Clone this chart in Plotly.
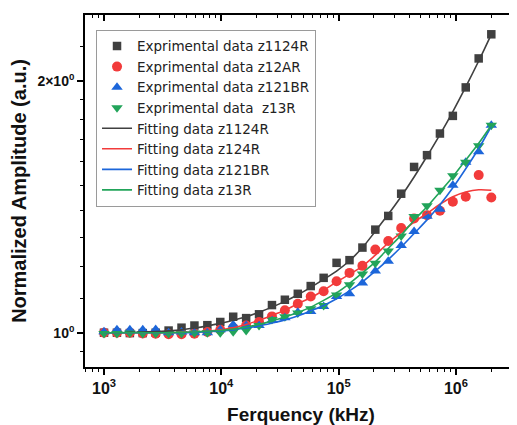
import plotly.graph_objects as go
import math

freq = [1000, 1289, 1661, 2140, 2757, 3553, 4578, 5899, 7602, 9796, 12620, 16270,
        20960, 27010, 34800, 44850, 57790, 74470, 95970, 123700, 159400, 205300,
        264600, 341000, 439400, 566200, 729600, 940200, 1211000, 1561000, 2000000]

exp_z1124R = [1.0, 1.0, 0.999, 0.999, 1.0, 1.006, 1.014, 1.020, 1.021, 1.030, 1.045, 1.041,
              1.052, 1.079, 1.095, 1.113, 1.137, 1.163, 1.212, 1.221, 1.264, 1.328, 1.379,
              1.466, 1.578, 1.630, 1.730, 1.816, 1.964, 2.127, 2.273]
exp_z12AR = [1.0, 1.0, 1.0, 0.998, 0.997, 0.996, 0.996, 0.997, 1.002, 1.008, 1.014, 1.020,
             1.030, 1.046, 1.064, 1.083, 1.105, 1.121, 1.152, 1.179, 1.202, 1.257, 1.287,
             1.334, 1.369, 1.382, 1.399, 1.434, 1.454, 1.543, 1.451]
exp_z121BR = [1.003, 1.008, 1.008, 1.008, 1.009, 1.0, 1.002, 1.0, 1.0, 1.008, 1.022, 1.02,
              1.02, 1.034, 1.042, 1.058, 1.060, 1.075, 1.105, 1.113, 1.147, 1.185, 1.217,
              1.271, 1.321, 1.378, 1.405, 1.500, 1.598, 1.645, 1.770]
exp_z13R = [0.998, 0.998, 0.999, 0.998, 0.998, 0.998, 0.998, 0.999, 1.0, 1.0, 1.003, 1.006,
            1.020, 1.037, 1.045, 1.056, 1.068, 1.078, 1.109, 1.141, 1.175, 1.211, 1.252,
            1.305, 1.377, 1.418, 1.480, 1.540, 1.598, 1.673, 1.770]

fit_z1124R = [1.0, 1.0, 1.001, 1.002, 1.003, 1.005, 1.008, 1.013, 1.019, 1.026, 1.035, 1.045,
              1.058, 1.073, 1.090, 1.110, 1.133, 1.158, 1.185, 1.219, 1.264, 1.322, 1.385,
              1.455, 1.535, 1.625, 1.725, 1.838, 1.967, 2.112, 2.273]
fit_z124R = [1.0, 1.0, 1.0, 1.0, 1.0, 1.0, 1.001, 1.002, 1.004, 1.008, 1.014, 1.023,
             1.035, 1.049, 1.064, 1.083, 1.101, 1.124, 1.150, 1.174, 1.201, 1.238, 1.280,
             1.318, 1.356, 1.388, 1.424, 1.454, 1.473, 1.482, 1.480]
fit_z121BR = [1.0, 1.0, 1.0, 1.0, 1.0, 1.0, 1.0, 1.001, 1.003, 1.005, 1.008, 1.013,
              1.019, 1.027, 1.036, 1.047, 1.062, 1.078, 1.098, 1.122, 1.150, 1.185, 1.223,
              1.266, 1.314, 1.364, 1.422, 1.490, 1.570, 1.660, 1.765]
fit_z13R = [1.0, 1.0, 1.0, 1.0, 1.0, 1.0, 1.001, 1.002, 1.004, 1.006, 1.010, 1.016,
            1.023, 1.033, 1.044, 1.057, 1.073, 1.093, 1.116, 1.145, 1.179, 1.215, 1.261,
            1.308, 1.363, 1.414, 1.473, 1.536, 1.608, 1.684, 1.770]

x_major = [1e3, 1e4, 1e5, 1e6]
x_major_text = ["<b>10<sup>3</sup></b>", "<b>10<sup>4</sup></b>",
                "<b>10<sup>5</sup></b>", "<b>10<sup>6</sup></b>"]
x_minor = [m * 10 ** e for e in range(2, 7) for m in range(2, 10)]
y_major = [1, 2]
y_major_text = ["<b>10<sup>0</sup></b>", "<b>2×10<sup>0</sup></b>"]
y_minor = [0.95, 1.1, 1.2, 1.3, 1.4, 1.5, 1.6, 1.7, 1.8, 1.9, 2.2]

GRAY = "#404040"
RED = "#f23b3b"
BLUE = "#1c66da"
GREEN = "#22a45a"

fig = go.Figure()
marker_specs = [
    ("Exprimental data z1124R", exp_z1124R, "square", GRAY, 8.5),
    ("Exprimental data z12AR", exp_z12AR, "circle", RED, 10),
    ("Exprimental data z121BR", exp_z121BR, "triangle-up", BLUE, 10),
    ("Exprimental data \u00a0z13R", exp_z13R, "triangle-down", GREEN, 10),
]
for name, ys, sym, col, sz in marker_specs:
    fig.add_trace(go.Scatter(x=freq, y=ys, mode="markers", name=name,
                             marker=dict(symbol=sym, color=col, size=sz, line=dict(width=0))))
line_specs = [
    ("Fitting data z1124R", fit_z1124R, GRAY),
    ("Fitting data z124R", fit_z124R, RED),
    ("Fitting data z121BR", fit_z121BR, BLUE),
    ("Fitting data z13R", fit_z13R, GREEN),
]
for name, ys, col in line_specs:
    fig.add_trace(go.Scatter(x=freq, y=ys, mode="lines", name=name, line_shape="spline",
                             line=dict(color=col, width=1.6)))

# helper trace for mirrored top/right axes
fig.add_trace(go.Scatter(x=[freq[0]], y=[1], xaxis="x2", yaxis="y2", mode="markers",
                         marker=dict(opacity=0), showlegend=False, hoverinfo="skip"))

xr = [2.838, 6.52]
yr = [math.log10(0.910), math.log10(2.397)]
font = "Liberation Sans, Arial, sans-serif"
lfont = "DejaVu Sans, sans-serif"

fig.update_layout(
    width=509, height=417,
    margin=dict(l=77, r=0, t=7, b=58, autoexpand=False),
    paper_bgcolor="white", plot_bgcolor="white",
    font=dict(family=font, color="#111"),
    showlegend=True,
    legend=dict(x=0.0255, y=0.958, xanchor="left", yanchor="top",
                bgcolor="rgba(255,255,255,1)", bordercolor="#9a9a9a", borderwidth=1,
                font=dict(family=lfont, size=13.5, color="#222"), tracegroupgap=0,
                itemwidth=30),
    xaxis=dict(type="log", range=xr, showgrid=False, zeroline=False, automargin=False,
               showline=True, linecolor="black", linewidth=1.6, mirror=False,
               ticks="outside", ticklen=6, tickwidth=1.6, tickcolor="black",
               tickmode="array", tickvals=x_major, ticktext=x_major_text,
               tickfont=dict(family=font, size=16, color="#111"),
               minor=dict(tickmode="array", tickvals=x_minor, ticks="outside",
                          ticklen=3, tickwidth=1.4, tickcolor="black"),
               title=dict(text="<b>Ferquency (kHz)</b>", font=dict(family=font, size=19, color="#111"),
                          standoff=12)),
    yaxis=dict(type="log", range=yr, showgrid=False, zeroline=False, automargin=False,
               showline=True, linecolor="black", linewidth=1.6, mirror=False,
               ticks="outside", ticklen=6, tickwidth=1.6, tickcolor="black",
               tickmode="array", tickvals=y_major, ticktext=y_major_text,
               tickfont=dict(family=font, size=14, color="#111"),
               minor=dict(tickmode="array", tickvals=y_minor, ticks="outside",
                          ticklen=3, tickwidth=1.4, tickcolor="black"),
               title=dict(text="<b>Normalized Amplitude (a.u.)</b>",
                          font=dict(family=font, size=20, color="#111"), standoff=10)),
    xaxis2=dict(type="log", range=xr, overlaying="x", side="top", anchor="y", automargin=False,
                showgrid=False, zeroline=False, showline=True, linecolor="black", linewidth=1.6,
                ticks="inside", ticklen=6, tickwidth=1.6, tickcolor="black",
                tickmode="array", tickvals=x_major, showticklabels=False,
                minor=dict(tickmode="array", tickvals=x_minor, ticks="inside",
                           ticklen=3, tickwidth=1.4, tickcolor="black")),
    yaxis2=dict(type="log", range=yr, overlaying="y", side="right", anchor="x", automargin=False,
                showgrid=False, zeroline=False, showline=False,
                ticks="inside", ticklen=5, tickwidth=1.4, tickcolor="black",
                tickmode="array", tickvals=y_major, showticklabels=False,
                minor=dict(tickmode="array", tickvals=y_minor, ticks="inside",
                           ticklen=3, tickwidth=1.2, tickcolor="black")),
)

fig.write_html("out.html")
